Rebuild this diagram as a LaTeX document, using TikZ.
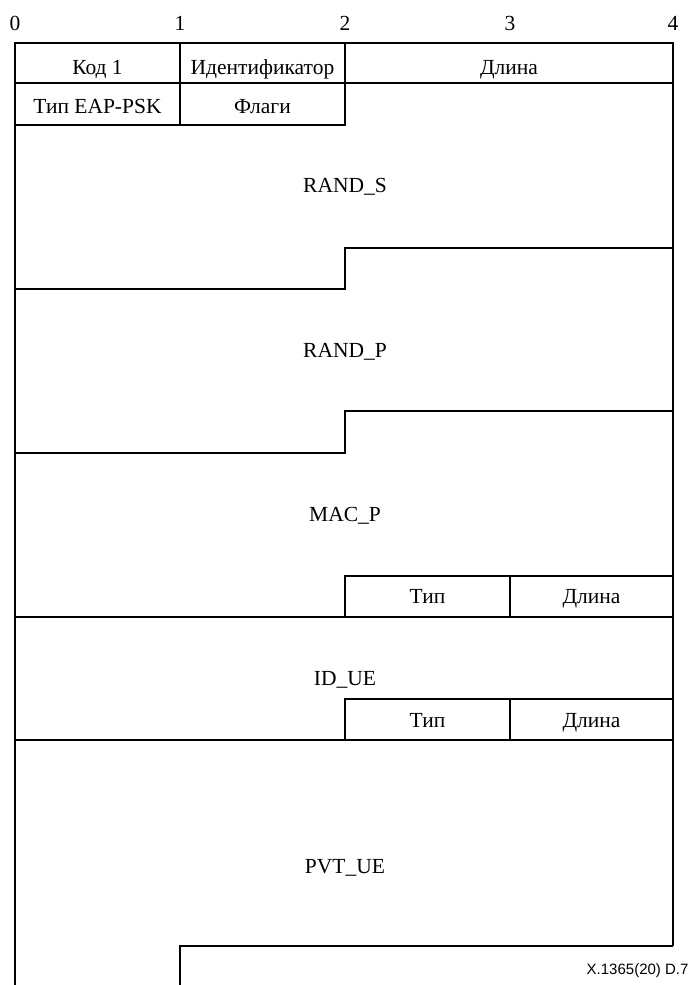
\documentclass[tikz,border=0pt]{standalone}
\usepackage{fontspec}
\setmainfont{Liberation Serif}
\newfontfamily\tagfont{Liberation Sans}
\usepackage{tikz}
\usetikzlibrary{positioning}

\begin{document}
\begin{tikzpicture}[x=1pt,y=-1pt,line width=1.1pt,
  fld/.style={font=\fontsize{21.5}{25}\selectfont,inner sep=0pt,anchor=base},
  num/.style={font=\fontsize{21.5}{25}\selectfont,inner sep=0pt,anchor=base}]
\useasboundingbox (0,0) rectangle (691,985);
% octet scale
\foreach \i/\x in {0/15,1/180,2/345,3/510,4/673}
  \node[num] (n\i) at (\x,30) {\i};
% header rows
\draw (15,43) rectangle (673,83);
\draw (180,43) -- (180,125);
\draw (345,43) -- (345,125) -- (15,125);
\draw (15,43) -- (15,985);
\draw (673,43) -- (673,946);
\node[fld] (kod) at (97.5,74) {Код 1};
\node[fld] (ident) at (262.5,74) {Идентификатор};
\node[fld] (dlina) at (509,74) {Длина};
\node[fld] (tip) at (97.5,113) {Тип EAP-PSK};
\node[fld] (flagi) at (262.5,113) {Флаги};
% RAND_S, RAND_P
\node[fld] (rands) at (345,192) {RAND\_S};
\draw (15,289) -- (345,289) -- (345,248) -- (673,248);
\node[fld] (randp) at (345,357) {RAND\_P};
\draw (15,453) -- (345,453) -- (345,411) -- (673,411);
% MAC_P
\node[fld] (macp) at (345,521) {MAC\_P};
\draw (345,617) -- (345,576) -- (673,576);
\draw (510,576) -- (510,617);
\draw (15,617) -- (673,617);
\node[fld] (mtip) at (427.5,603) {Тип};
\node[fld] (mdl) at (591.5,603) {Длина};
% ID_UE
\node[fld] (idue) at (345,685) {ID\_UE};
\draw (345,740) -- (345,699) -- (673,699);
\draw (510,699) -- (510,740);
\draw (15,740) -- (673,740);
\node[fld] (itip) at (427.5,727) {Тип};
\node[fld] (idl) at (591.5,727) {Длина};
% PVT_UE
\node[fld] (pvtue) at (345,873) {PVT\_UE};
\draw (180,985) -- (180,946) -- (673,946);
\node[anchor=east,inner sep=0pt,font=\tagfont\fontsize{15}{18}\selectfont] (tag) at (689,971) {X.1365(20) D.7};
\end{tikzpicture}
\end{document}
